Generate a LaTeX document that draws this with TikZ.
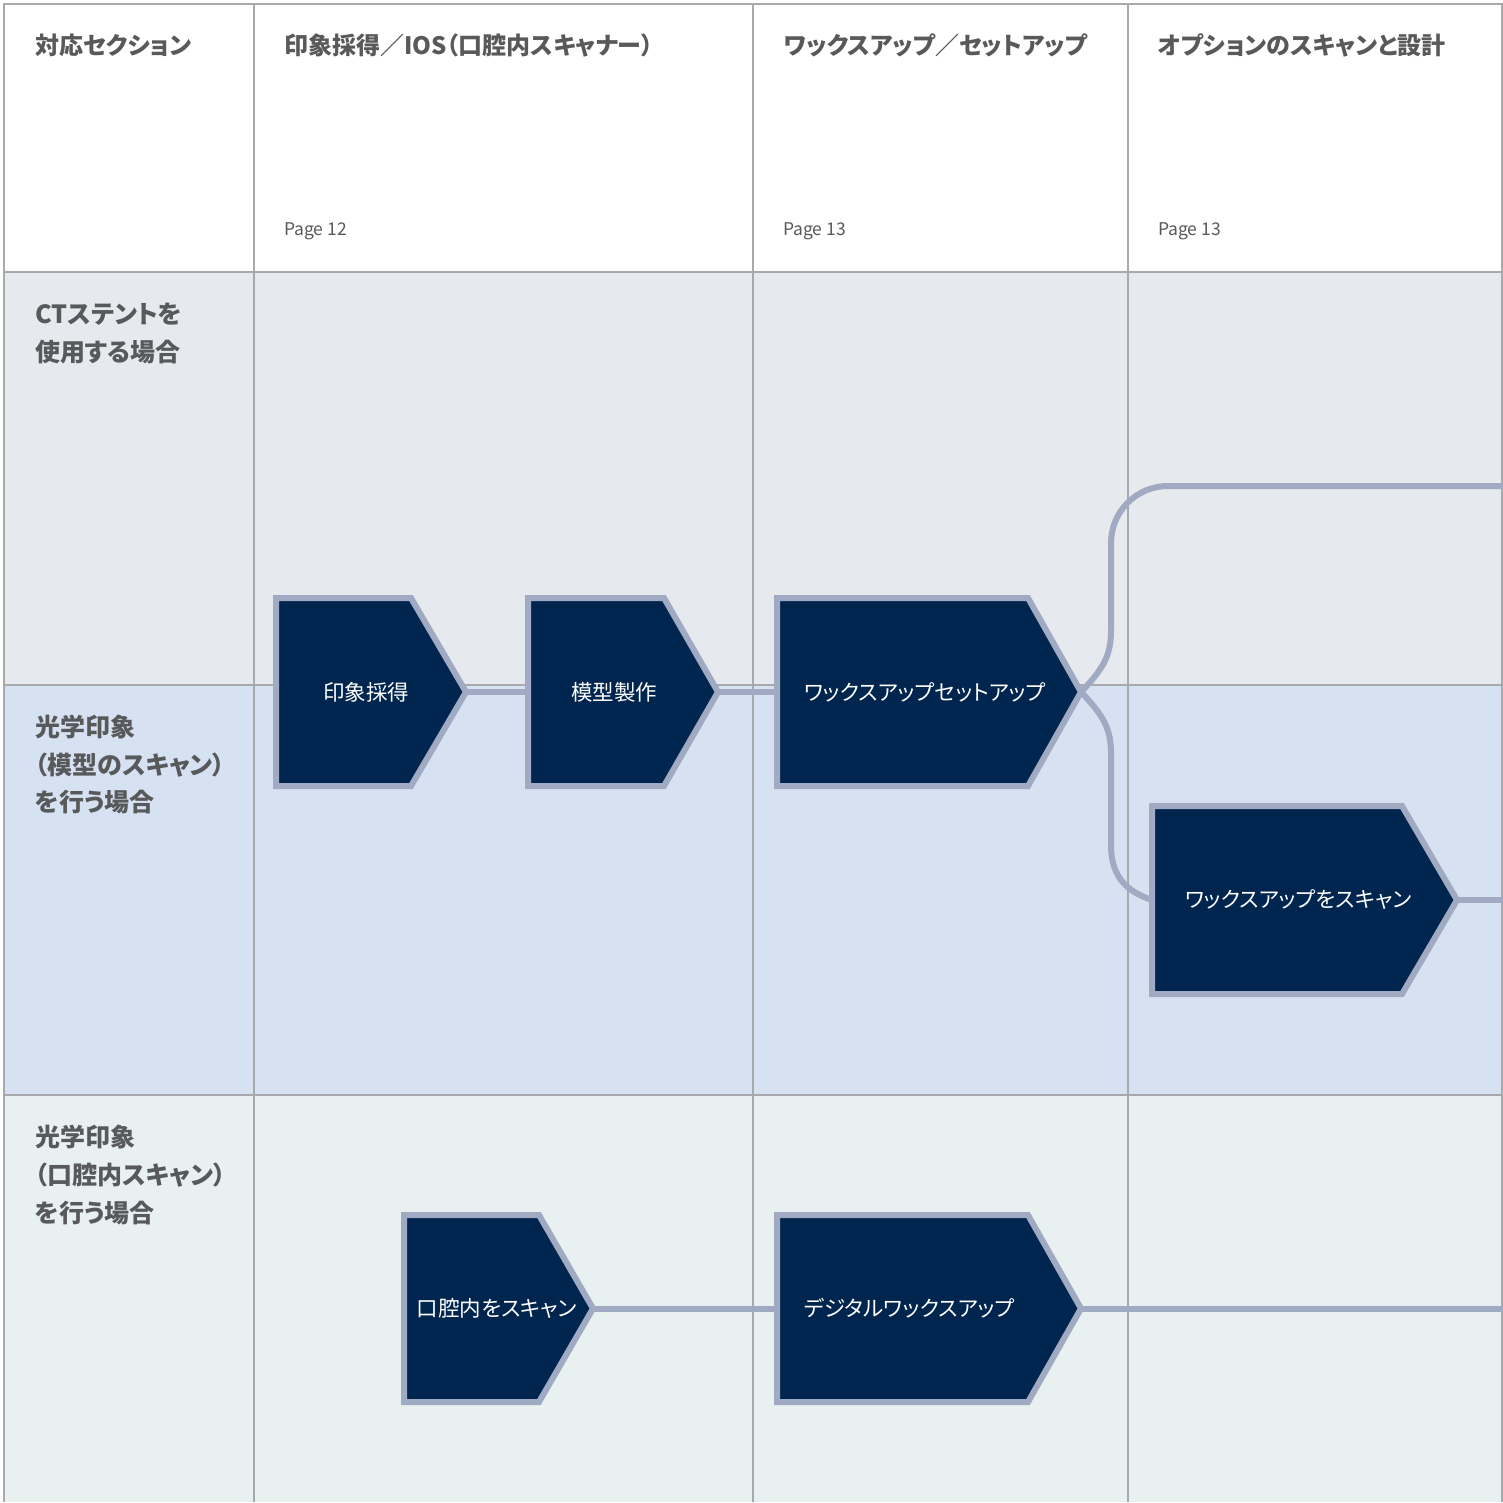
\documentclass[tikz,border=0pt]{standalone}
\usepackage{fontspec}
\setmainfont{Noto Sans CJK JP}[RawFeature={+palt}]
\definecolor{rowa}{RGB}{230,233,237}
\definecolor{rowb}{RGB}{214,226,242}
\definecolor{rowc}{RGB}{232,241,240}
\definecolor{gridc}{RGB}{167,169,172}
\definecolor{navy}{RGB}{0,38,79}
\definecolor{edgec}{RGB}{160,170,194}
\definecolor{labc}{RGB}{88,89,91}
\tikzset{
  gridline/.style={draw=gridc, line width=2pt},
  conn/.style={draw=edgec, line width=6pt},
  pent/.style={fill=navy, draw=edgec, line width=6pt, line join=miter},
  hdr/.style={text=labc, font=\bfseries\fontsize{24}{28}\selectfont, inner sep=0pt, anchor=west},
  rowlab/.style={hdr, font=\bfseries\fontsize{25}{28}\selectfont},
  pg/.style={text=labc, font=\fontsize{17.5}{20}\selectfont, inner sep=0pt, anchor=west},
  boxtext/.style={text=white, font=\fontsize{21.5}{24}\selectfont, inner sep=0pt}
}
\newcommand\pentbox[6]{%
  \path[pent] (#2,#3) -- (#5,#3) -- (#6,{(#3+#4)/2}) -- (#5,#4) -- (#2,#4) -- cycle;
  \coordinate (#1w) at (#2,{(#3+#4)/2});
  \coordinate (#1e) at (#6,{(#3+#4)/2});
}
\begin{document}
\begin{tikzpicture}[x=1pt,y=-1pt]
\useasboundingbox (0,0) rectangle (1503,1502);
% backgrounds
\fill[white] (4,4) rectangle (1503,272);
\fill[rowa] (4,272) rectangle (1503,685);
\fill[rowb] (4,685) rectangle (1503,1095);
\fill[rowc] (4,1095) rectangle (1503,1502);
% grid
\foreach \yy in {4,272,685,1095} \draw[gridline] (3,\yy) -- (1503,\yy);
\foreach \xx in {4,254,753,1128,1502} \draw[gridline] (\xx,3) -- (\xx,1502);
% connector end points
\coordinate (b1w) at (276,692); \coordinate (b1e) at (466,692);
\coordinate (b2w) at (528,692); \coordinate (b2e) at (718,692);
\coordinate (b3w) at (777,692); \coordinate (b3e) at (1081,692);
\coordinate (b4w) at (1152,900); \coordinate (b4e) at (1457,900);
\coordinate (b5w) at (404,1308.5); \coordinate (b5e) at (593,1308.5);
\coordinate (b6w) at (777,1308.5); \coordinate (b6e) at (1081,1308.5);
\coordinate (outa) at (1503,486);
\coordinate (outb) at (1503,900);
\coordinate (outc) at (1503,1308.5);
% connectors
\draw[conn] (b1e) -- (b2w);
\draw[conn] (b2e) -- (b3w);
\draw[conn] (b3e) .. controls (1104,668) and (1111,655) .. (1111,630)
   [rounded corners=57pt] -- (1111,486) -- (outa);
\draw[conn] (b3e) .. controls (1104,716) and (1111,729) .. (1111,754)
   -- (1111,845) .. controls (1111,878) and (1128,892) .. (b4w);
\draw[conn] (b4e) -- (outb);
\draw[conn] (b5e) -- (b6w);
\draw[conn] (b6e) -- (outc);
% boxes
\pentbox{p1}{276}{598}{786}{411}{466}
\pentbox{p2}{528}{598}{786}{664}{718}
\pentbox{p3}{777}{598}{786}{1028}{1081}
\pentbox{p4}{1152}{806}{994}{1402}{1457}
\pentbox{p5}{404}{1215}{1402}{539}{593}
\pentbox{p6}{777}{1215}{1402}{1028}{1081}
\node[boxtext] (b1) at (366,692) {印象採得};
\node[boxtext] (b2) at (614,692) {模型製作};
\node[boxtext, anchor=west] (b3) at (804,692) {ワックスアップセットアップ};
\node[boxtext, anchor=west] (b4) at (1185,900) {ワックスアップをスキャン};
\node[boxtext] (b5) at (497,1308.5) {口腔内をスキャン};
\node[boxtext, anchor=west] (b6) at (804,1308.5) {デジタルワックスアップ};
% header
\node[hdr] (h0) at (35,45) {対応セクション};
\node[hdr] (h1) at (284,45) {印象採得／IOS（口腔内スキャナー）};
\node[hdr] (h2) at (784,45) {ワックスアップ／セットアップ};
\node[hdr] (h3) at (1158,45) {オプションのスキャンと設計};
\node[pg] (g1) at (284,231) {Page 12};
\node[pg] (g2) at (783,231) {Page 13};
\node[pg] (g3) at (1158,231) {Page 13};
% row labels
\node[rowlab] (r1a) at (35,314) {CTステントを};
\node[rowlab] (r1b) at (35,352) {使用する場合};
\node[rowlab] (r2a) at (35,727) {光学印象};
\node[rowlab] (r2b) at (35,765) {（模型のスキャン）};
\node[rowlab] (r2c) at (35,802) {を行う場合};
\node[rowlab] (r3a) at (35,1137) {光学印象};
\node[rowlab] (r3b) at (35,1175) {（口腔内スキャン）};
\node[rowlab] (r3c) at (35,1213) {を行う場合};
\end{tikzpicture}
\end{document}
